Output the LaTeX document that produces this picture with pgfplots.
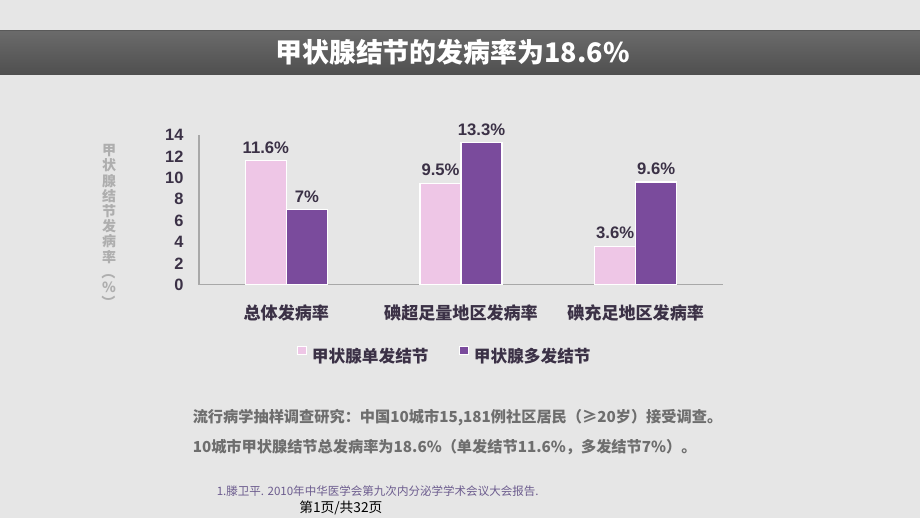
\documentclass[border=0pt]{standalone}
\usepackage{pgfplots}
\pgfplotsset{compat=1.18}
\usepackage{fontspec}
\setmainfont{Liberation Sans}
\newfontfamily\cjk{Noto Sans CJK SC}
\usetikzlibrary{shadings}
\definecolor{bgc}{HTML}{E6E6E6}
\definecolor{pinkbar}{HTML}{EEC6E6}
\definecolor{purplebar}{HTML}{7A4B9C}
\definecolor{darktxt}{HTML}{3B3146}
\definecolor{axisgray}{HTML}{A8A8A8}
\definecolor{paragray}{HTML}{6E6E6E}
\definecolor{ylabgray}{HTML}{AEAEAE}
\definecolor{footc}{HTML}{6C5C8E}
\begin{document}
\begin{tikzpicture}[x=0.75pt,y=-0.75pt]
\fill[bgc] (0,0) rectangle (920,518);
% title bar
\shade[top color=black!58, bottom color=black!69] (0,30) rectangle (920,74.7);
\draw[black!65, line width=0.8pt] (0,30.4) -- (920,30.4);
\node[text=white, font=\cjk\bfseries\fontsize{20.2}{22}\selectfont, inner sep=0pt] at (452.5,52.5) {甲状腺结节的发病率为18.6\%};
% y label (vertical)
\node[text=ylabgray, font=\cjk\bfseries\fontsize{10.5}{11.4}\selectfont, align=center, inner sep=0pt] at (109,227)
 {甲\\状\\腺\\结\\节\\发\\病\\率\\\rotatebox[origin=c]{-90}{（}\\\%\\\rotatebox[origin=c]{-90}{）}};
\coordinate (O) at (199,284.7);
\begin{axis}[
  at={(O)}, anchor=south west,
  scale only axis, width=393pt, height=112.3pt,
  xmin=-0.5, xmax=2.5, ymin=0, ymax=14,
  ybar=0pt, bar width=30.75pt,
  axis x line*=bottom, axis y line*=left,
  axis line style={axisgray, line width=1.1pt},
  major tick length=0pt,
  xtick=data,
  xticklabels={总体发病率,碘超足量地区发病率,碘充足地区发病率},
  xticklabel style={font=\cjk\bfseries\fontsize{12.8}{14}\selectfont, text=darktxt, anchor=center, yshift=-21pt, inner sep=0pt},
  ytick={0,2,...,14},
  yticklabel style={font=\bfseries\fontsize{12.3}{14}\selectfont, text=darktxt, anchor=east, inner sep=0pt, xshift=-11.5pt},
  /pgf/number format/assume math mode=true,
  nodes near coords={\pgfmathprintnumber[fixed,precision=1]{\pgfplotspointmeta}\%},
  every node near coord/.append style={font=\bfseries\fontsize{12.5}{14}\selectfont, text=darktxt, inner sep=0pt, anchor=south, yshift=5pt},
  legend columns=2,
  legend style={at={(0.1865,-0.47)}, anchor=west, draw=none, fill=none, inner sep=0pt,
     font=\cjk\bfseries\fontsize{12.5}{14}\selectfont, text=darktxt,
     column sep=0pt,
     /tikz/every even column/.append style={column sep=18.5pt},
     nodes={inner xsep=4.3pt, inner ysep=0pt}},
  legend image code/.code={\draw[#1, draw=white, line width=0.4pt] (0pt,1.2pt) rectangle (6.5pt,7.7pt);},
]
\addplot[fill=pinkbar, draw=white, line width=0.8pt] coordinates {(0,11.6) (1,9.5) (2,3.6)};
\addplot[fill=purplebar, draw=white, line width=0.8pt] coordinates {(0,7) (1,13.3) (2,9.6)};
\legend{甲状腺单发结节,甲状腺多发结节}
\end{axis}
% paragraph
\node[anchor=west, inner sep=0pt, text=paragray, font=\cjk\bfseries\fontsize{11.4}{14}\selectfont] at (192.5,418) {流行病学抽样调查研究：中国10城市15,181例社区居民（≥20岁）接受调查。};
\node[anchor=west, inner sep=0pt, text=paragray, font=\cjk\bfseries\fontsize{11.4}{14}\selectfont] at (192.5,447) {10城市甲状腺结节总发病率为18.6\%（单发结节11.6\%，多发结节7\%）。};
% footnote
\node[anchor=west, inner sep=0pt, text=footc, font=\cjk\fontsize{8.65}{10}\selectfont] at (216.5,490.7) {1.滕卫平. 2010年中华医学会第九次内分泌学学术会议大会报告.};
\node[anchor=west, inner sep=0pt, text=black, font=\cjk\fontsize{10.3}{12}\selectfont] at (299,508) {第1页/共32页};
\pgfresetboundingbox
\useasboundingbox (0,0) rectangle (920,518);
\end{tikzpicture}
\end{document}
